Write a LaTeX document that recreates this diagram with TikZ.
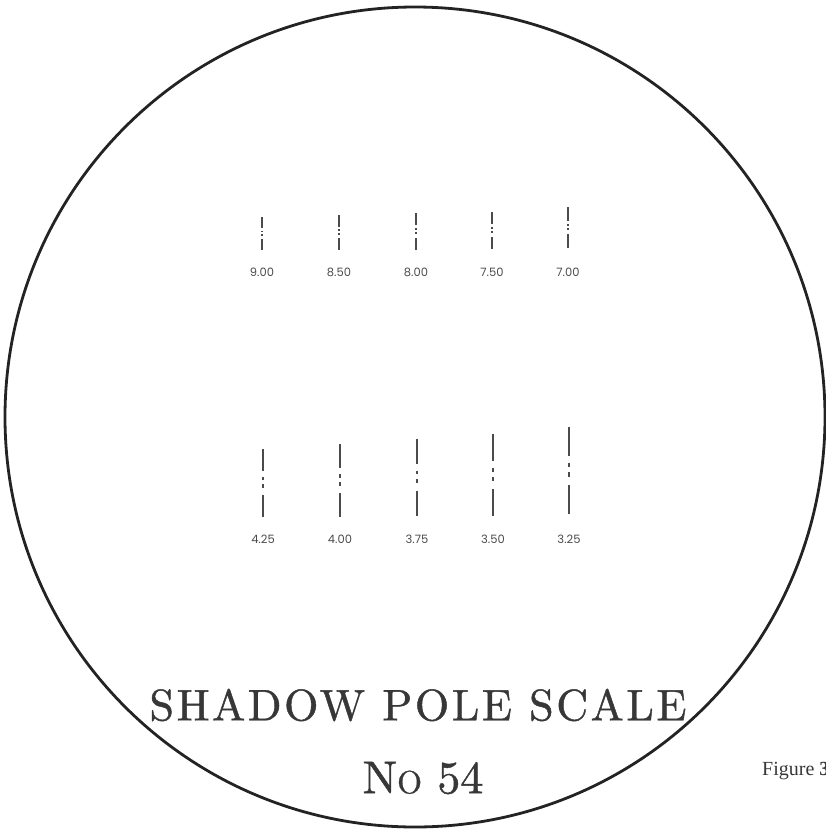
\documentclass[tikz,border=0pt]{standalone}
\usepackage{fontspec}
\usepackage{xcolor}
\definecolor{rimgray}{RGB}{35,35,35}
\definecolor{inkgray}{RGB}{55,55,55}
\definecolor{tickgray}{RGB}{75,75,75}
\newfontfamily\titlefont[LetterSpace=6,FakeBold=1]{lmroman10-regular.otf}
\newfontfamily\numfont[FakeBold=1]{lmroman10-regular.otf}
\newfontfamily\scalefont{Poppins}
\newfontfamily\captionfont{Liberation Serif}
\usetikzlibrary{positioning}

% one pole mark: x, top, bottom (solid, two dots, solid)
\newcommand{\poletick}[3]{%
  \pgfmathsetmacro\tl{#3-#2}%
  \draw[tickline] (#1,#2) -- (#1,{#2+0.33*\tl});
  \draw[tickline] (#1,{#2+0.41*\tl}) -- (#1,{#2+0.46*\tl});
  \draw[tickline] (#1,{#2+0.52*\tl}) -- (#1,{#2+0.57*\tl});
  \draw[tickline] (#1,{#2+0.67*\tl}) -- (#1,#3);
}

\tikzset{
  rim/.style={draw=rimgray, line width=2.8pt},
  tickline/.style={draw=tickgray, line width=1.4pt},
  ticklabel/.style={font=\scalefont\fontsize{11.5}{11.5}\selectfont, text=tickgray, inner sep=0pt},
  titletext/.style={font=\titlefont\fontsize{44}{44}\selectfont, text=inkgray, inner sep=0pt},
  numtext/.style={font=\numfont\fontsize{46}{46}\selectfont, text=inkgray, inner sep=0pt},
  figtext/.style={font=\captionfont\fontsize{20}{20}\selectfont, text=inkgray, inner sep=0pt}
}

\begin{document}
\begin{tikzpicture}[x=1pt, y=-1pt]
  \useasboundingbox (0,0) rectangle (826,830);

  % --- Outer ring ---
  \draw[rim] (415,417) circle[radius=410pt];

  % --- Upper row of marks ---
  \poletick{262}{217}{250}
  \poletick{339}{215}{250}
  \poletick{416}{213}{250}
  \poletick{492}{212}{249}
  \poletick{568}{207}{248}

  \node[ticklabel] (u900) at (262,272) {9.00};
  \node[ticklabel] (u850) at (339,272) {8.50};
  \node[ticklabel] (u800) at (416,272) {8.00};
  \node[ticklabel] (u750) at (492,272) {7.50};
  \node[ticklabel] (u700) at (568,272) {7.00};

  % --- Lower row of marks ---
  \poletick{263}{449}{517}
  \poletick{340}{444}{517}
  \poletick{417}{439}{516}
  \poletick{493}{434}{516}
  \poletick{569}{427}{514}

  \node[ticklabel] (l425) at (263,539) {4.25};
  \node[ticklabel] (l400) at (340,539) {4.00};
  \node[ticklabel] (l375) at (417,539) {3.75};
  \node[ticklabel] (l350) at (493,539) {3.50};
  \node[ticklabel] (l325) at (569,539) {3.25};

  % --- Title ---
  \node[titletext] (title) at (418,705) {SHADOW POLE SCALE};
  \node[numtext] (number) at (423,778) {N{\fontsize{32}{32}\selectfont O} 54};

  % --- Caption, cut by the page edge ---
  \node[figtext, anchor=base west] (caption) at (762,775) {Figure \textbf{3}};
\end{tikzpicture}
\end{document}
